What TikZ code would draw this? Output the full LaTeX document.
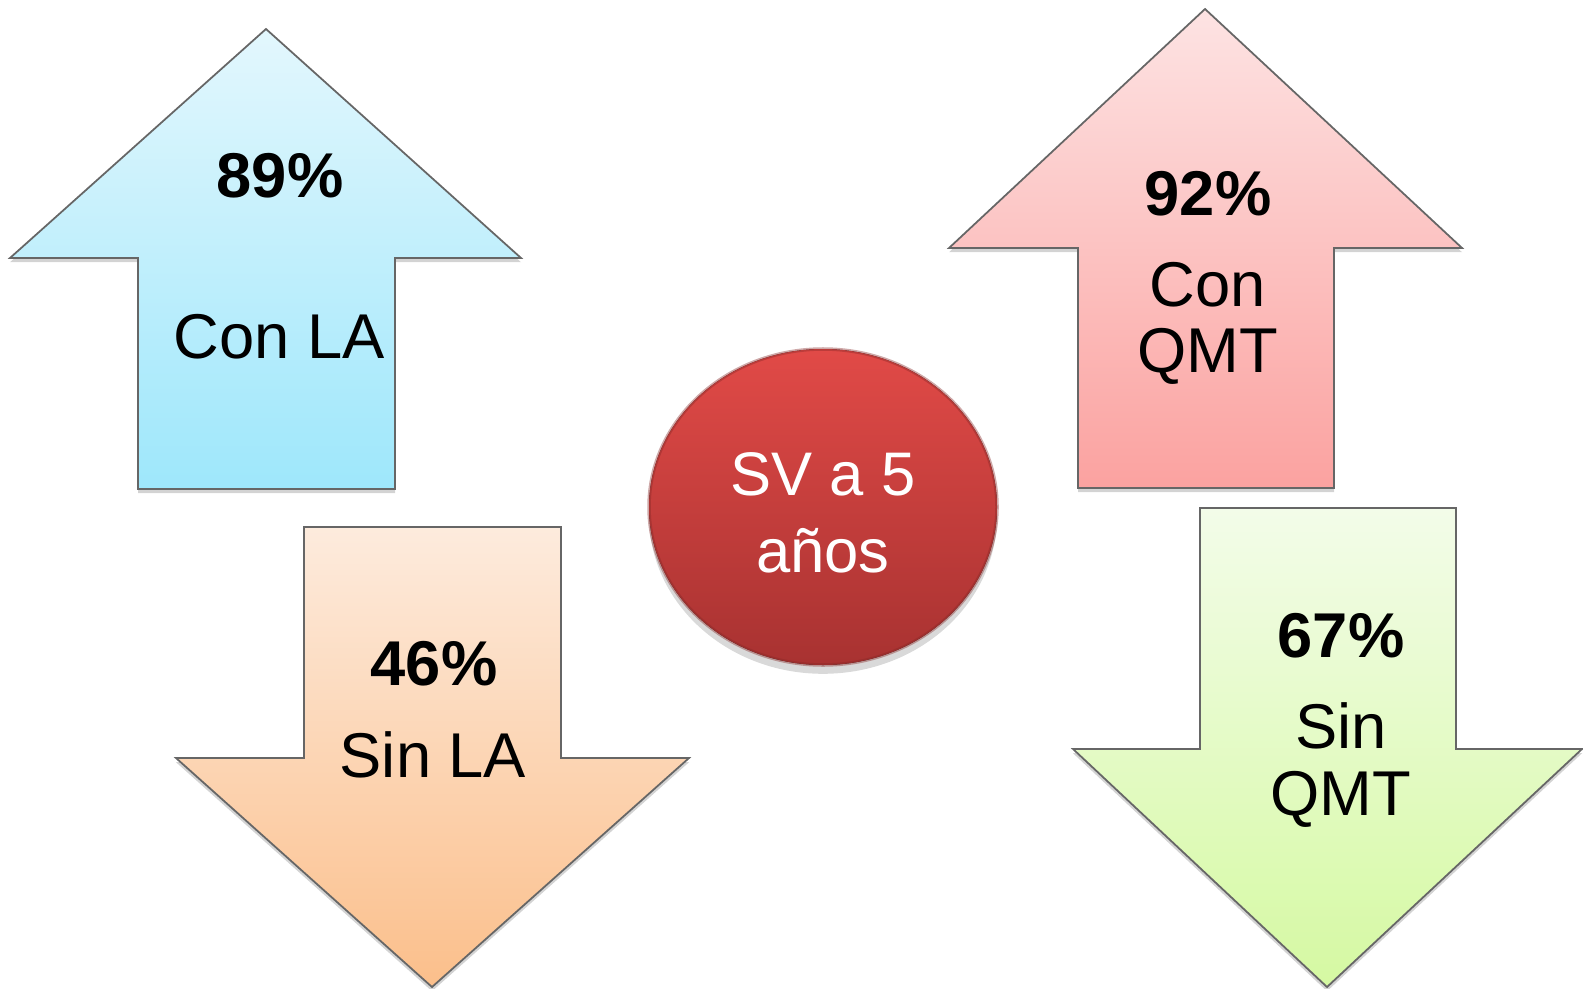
\documentclass[tikz,border=0pt]{standalone}
\usepackage{fontspec}
\setmainfont{Liberation Sans}
\usepackage{xcolor}
\usepackage{tikz}
\usetikzlibrary{shadows,positioning}

\definecolor{blueTop}{HTML}{E3F7FD}
\definecolor{blueBot}{HTML}{9EE7FB}
\definecolor{pinkTop}{HTML}{FDE3E3}
\definecolor{pinkBot}{HTML}{FBA2A0}
\definecolor{orangeTop}{HTML}{FDEBDD}
\definecolor{orangeBot}{HTML}{FBBF8B}
\definecolor{greenTop}{HTML}{F3FCE9}
\definecolor{greenBot}{HTML}{D5F9A2}
\definecolor{redTop}{HTML}{E14A47}
\definecolor{redBot}{HTML}{A83231}

\tikzset{
    bigarrow/.style={draw=gray!80!black, line width=0.5pt,
        drop shadow={shadow xshift=0pt, shadow yshift=-1.2pt, opacity=0.35}},
    pct/.style={anchor=base, inner sep=0pt, font=\bfseries\fontsize{18}{19}\selectfont},
    lbl/.style={anchor=base, inner sep=0pt, font=\fontsize{18}{19}\selectfont},
    svlbl/.style={anchor=base, inner sep=0pt, text=white, font=\fontsize{17.5}{21}\selectfont},
}

\begin{document}
\begin{tikzpicture}[x=0.01cm, y=-0.01cm]
        \useasboundingbox (0,0) rectangle (1583,988);

        % Con LA
        \filldraw[bigarrow, top color=blueTop, bottom color=blueBot]
            (266,29) -- (521,258) -- (395,258) -- (395,489) -- (138,489) -- (138,258) -- (10,258) -- cycle;
        \node[pct] (p89) at (280,197) {89\%};
        \node[lbl] (conla) at (279,358) {Con LA};

        % Sin LA
        \filldraw[bigarrow, top color=orangeTop, bottom color=orangeBot]
            (304,527) -- (561,527) -- (561,758) -- (689,758) -- (432,987) -- (176,758) -- (304,758) -- cycle;
        \node[pct] (p46) at (434,685) {46\%};
        \node[lbl] (sinla) at (433,777) {Sin LA};

        % Con QMT
        \filldraw[bigarrow, top color=pinkTop, bottom color=pinkBot]
            (1205,9) -- (1462,248) -- (1334,248) -- (1334,488) -- (1078,488) -- (1078,248) -- (949,248) -- cycle;
        \node[pct] (p92) at (1208,215) {92\%};
        \node[lbl] (con) at (1208,306) {Con};
        \node[lbl] (qmta) at (1208,372) {QMT};

        % Sin QMT
        \filldraw[bigarrow, top color=greenTop, bottom color=greenBot]
            (1200,508) -- (1456,508) -- (1456,749) -- (1582,749) -- (1327,987) -- (1073,749) -- (1200,749) -- cycle;
        \node[pct] (p67) at (1341,657) {67\%};
        \node[lbl] (sin) at (1341,748) {Sin};
        \node[lbl] (qmtb) at (1341,815) {QMT};

        % SV a 5 anos
        \filldraw[draw=redBot!80!black, draw opacity=0.4, line width=1pt, top color=redTop, bottom color=redBot,
            drop shadow={shadow xshift=0pt, shadow yshift=-2.5pt, opacity=0.3}]
            (823,507) ellipse [x radius=174, y radius=158];
        \node[svlbl] (sv) at (823,495) {SV a 5};
        \node[svlbl] (anos) at (823,572) {años};
    \end{tikzpicture}
\end{document}
